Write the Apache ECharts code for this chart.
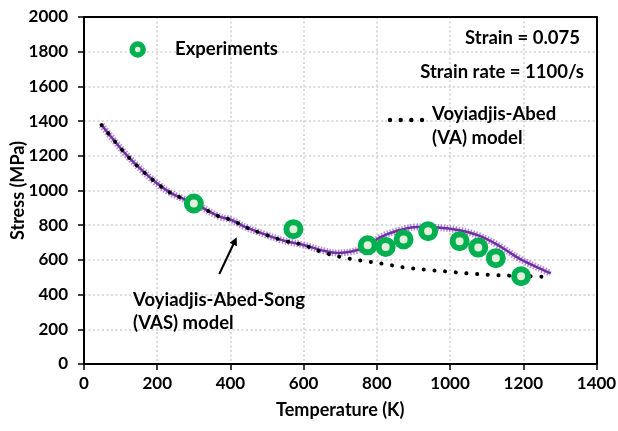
<!DOCTYPE html>
<html>
<head>
<meta charset="utf-8">
<script src="https://cdn.jsdelivr.net/npm/echarts@6/dist/echarts.min.js"></script>
<style>html,body{margin:0;padding:0;background:#fff}#c{width:618px;height:431px}</style>
</head>
<body>
<div id="c"></div>
<script>
// Experimental data
var expT = [300, 572, 775, 824, 873, 940, 1026, 1077, 1125, 1194];
var expS = [925, 777, 684, 675, 718, 765, 708, 671, 610, 506];
// Voyiadjis-Abed-Song (VAS) model
var vasT = [48, 85, 121, 158, 200, 239, 276, 300, 367, 403, 440, 494, 549, 600, 658, 694, 731, 767, 810, 856, 911, 966, 1022, 1077, 1132, 1188, 1243, 1275];
var vasS = [1377, 1281, 1194, 1117, 1040, 983, 948, 928, 852, 830, 790, 747, 709, 686, 651, 640, 648, 672, 731, 768, 790, 787, 772, 741, 684, 609, 553, 523];
// Voyiadjis-Abed (VA) model
var vaT = [48, 85, 121, 158, 200, 239, 276, 300, 367, 403, 440, 494, 549, 600, 650, 699, 757, 815, 874, 933, 991, 1049, 1107, 1166, 1224, 1254];
var vaS = [1377, 1281, 1194, 1117, 1040, 983, 948, 928, 852, 830, 790, 747, 709, 686, 645, 618, 596, 578, 557, 544, 533, 522, 514, 509, 505, 503];
// Axes
var xTicks = {min: 0, max: 1400, interval: 200};
var yTicks = {min: 0, max: 2000, interval: 200};

function pairs(a, b) { return a.map(function (v, i) { return [v, b[i]]; }); }

var FONT = 'Lato';
var chart = echarts.init(document.getElementById('c'), null, {renderer: 'canvas'});
var labelStyle = {color: '#000', fontFamily: FONT, fontWeight: 'bold', fontSize: 17, formatter: function (v) { return String(v); }};
var axisCommon = {
  axisLine: {show: true, lineStyle: {color: '#000', width: 2}},
  axisTick: {show: true, inside: false, length: 6, lineStyle: {color: '#000', width: 1.5}},
  splitLine: {show: true, lineStyle: {color: '#cfcfcf', width: 1.5, type: [2, 2.5]}},
  nameMoveOverlap: false,
  nameTextStyle: {color: '#000', fontFamily: FONT, fontWeight: 'bold', fontSize: 18}
};
var frameAxis = {
  type: 'value', axisLine: {show: true, onZero: false, lineStyle: {color: '#000', width: 2}},
  axisTick: {show: false}, axisLabel: {show: false}, splitLine: {show: false}
};
chart.setOption({
  animation: false,
  grid: {left: 84, right: 21.5, top: 17, bottom: 67, containLabel: false, outerBoundsMode: 'none'},
  xAxis: [
    Object.assign({}, axisCommon, {
      type: 'value', min: xTicks.min, max: xTicks.max, interval: xTicks.interval,
      name: 'Temperature (K)', nameLocation: 'middle', nameGap: 37,
      axisLabel: Object.assign({}, labelStyle, {margin: 11})
    }),
    Object.assign({}, frameAxis, {position: 'top', min: xTicks.min, max: xTicks.max})
  ],
  yAxis: [
    Object.assign({}, axisCommon, {
      type: 'value', min: yTicks.min, max: yTicks.max, interval: yTicks.interval,
      name: 'Stress (MPa)', nameLocation: 'middle', nameGap: 57,
      axisLabel: Object.assign({}, labelStyle, {margin: 16})
    }),
    Object.assign({}, frameAxis, {position: 'right', min: yTicks.min, max: yTicks.max})
  ],
  series: [
    {
      name: 'VAS fuzz', type: 'line', data: pairs(vasT, vasS), smooth: 0.35, symbol: 'none', z: 2,
      lineStyle: {color: 'rgba(150,90,205,0.7)', width: 7, type: [1.5, 1.5]}
    },
    {
      name: 'Voyiadjis-Abed-Song (VAS) model', type: 'line', data: pairs(vasT, vasS), smooth: 0.35, symbol: 'none', z: 3,
      lineStyle: {color: '#7030A0', width: 2.5}
    },
    {
      name: 'Voyiadjis-Abed (VA) model', type: 'line', data: pairs(vaT, vaS), smooth: 0.35, symbol: 'none', z: 4,
      lineStyle: {color: '#000', width: 4, type: [0.1, 10.6], cap: 'round'}
    },
    {
      name: 'Experiments', type: 'scatter', data: pairs(expT, expS), z: 5,
      symbol: 'circle', symbolSize: 14,
      itemStyle: {color: '#E2EFDA', borderColor: '#00B050', borderWidth: 6, opacity: 1}
    }
  ],
  graphic: [
    {type: 'circle', shape: {cx: 137.7, cy: 49.5, r: 5.5}, style: {fill: '#E2EFDA', stroke: '#00B050', lineWidth: 5.5}, z: 10},
    {type: 'text', x: 175, y: 49, style: {text: 'Experiments', font: 'bold 18.5px ' + FONT, fill: '#000', textVerticalAlign: 'middle', verticalAlign: 'middle'}, z: 10},
    {type: 'text', x: 580, y: 38.5, style: {text: 'Strain = 0.075', font: 'bold 18.5px ' + FONT, fill: '#000', textAlign: 'right', align: 'right', textVerticalAlign: 'middle', verticalAlign: 'middle'}, z: 10},
    {type: 'text', x: 584, y: 72, style: {text: 'Strain rate = 1100/s', font: 'bold 18.5px ' + FONT, fill: '#000', textAlign: 'right', align: 'right', textVerticalAlign: 'middle', verticalAlign: 'middle'}, z: 10},
    {type: 'circle', shape: {cx: 390, cy: 120, r: 2.2}, style: {fill: '#000'}, z: 10},
    {type: 'circle', shape: {cx: 400.7, cy: 120, r: 2.2}, style: {fill: '#000'}, z: 10},
    {type: 'circle', shape: {cx: 411.3, cy: 120, r: 2.2}, style: {fill: '#000'}, z: 10},
    {type: 'circle', shape: {cx: 422, cy: 120, r: 2.2}, style: {fill: '#000'}, z: 10},
    {type: 'text', x: 432, y: 114.5, style: {text: 'Voyiadjis-Abed', font: 'bold 18.5px ' + FONT, fill: '#000', textVerticalAlign: 'middle', verticalAlign: 'middle'}, z: 10},
    {type: 'text', x: 432, y: 138.5, style: {text: '(VA) model', font: 'bold 18.5px ' + FONT, fill: '#000', textVerticalAlign: 'middle', verticalAlign: 'middle'}, z: 10},
    {type: 'text', x: 133, y: 300, style: {text: 'Voyiadjis-Abed-Song', font: 'bold 18.5px ' + FONT, fill: '#000', textVerticalAlign: 'middle', verticalAlign: 'middle'}, z: 10},
    {type: 'text', x: 133, y: 323.5, style: {text: '(VAS) model', font: 'bold 18.5px ' + FONT, fill: '#000', textVerticalAlign: 'middle', verticalAlign: 'middle'}, z: 10},
    {type: 'line', shape: {x1: 219.3, y1: 274, x2: 233.6, y2: 243.8}, style: {stroke: '#000', lineWidth: 2}, z: 10},
    {type: 'polygon', shape: {points: [[236.7, 237.3], [236.9, 246.3], [229.7, 242.8]]}, style: {fill: '#000'}, z: 10}
  ]
});
</script>
</body>
</html>
